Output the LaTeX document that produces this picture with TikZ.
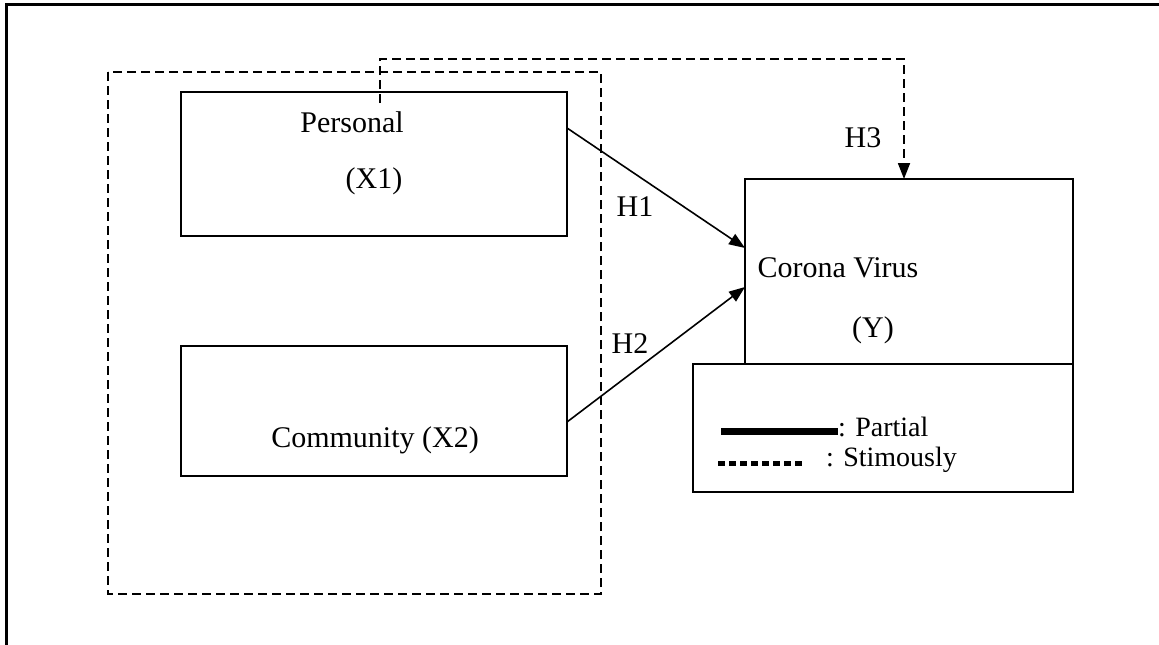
\documentclass[tikz,border=0pt]{standalone}
\usepackage{fontspec}
\setmainfont{Liberation Serif}
\usetikzlibrary{arrows.meta}
\begin{document}
\begin{tikzpicture}[x=1pt,y=-1pt,
  box/.style={draw,line width=2pt},
  dsh/.style={draw,line width=1.8pt,dash pattern=on 9pt off 5pt},
  lbl/.style={font=\fontsize{30}{34}\selectfont,anchor=base,inner sep=0pt},
  leg/.style={font=\fontsize{28}{32}\selectfont,anchor=base west,inner sep=0pt},
  arr/.style={line width=1.6pt,-{Triangle[length=16pt,width=12pt]}}]
\useasboundingbox (0,0) rectangle (1159,645);
% outer frame (top and left only)
\draw[line width=3pt] (6,645) -- (6,4) -- (1159,4);
% dashed group
\draw[dsh] (108,72) rectangle (601,594);
% boxes
\draw[box] (181,92) rectangle (567,236);
\draw[box] (181,346) rectangle (567,476);
\draw[box] (745,179) rectangle (1073,364);
\draw[box] (693,364) rectangle (1073,492);
% texts
\node[lbl] (tpers) at (352,132) {Personal};
\node[lbl] (tx1) at (374,188) {(X1)};
\node[lbl] (tcomm) at (375,447) {Community (X2)};
\node[lbl] (tcor) at (838,277) {Corona Virus};
\node[lbl] (ty) at (873,337) {(Y)};
\node[lbl] (th1) at (635,216) {H1};
\node[lbl] (th2) at (630,353) {H2};
\node[lbl] (th3) at (863,147) {H3};
% connectors
\coordinate (h1s) at (567,128);
\coordinate (h1e) at (745,248);
\coordinate (h2s) at (567,422);
\coordinate (h2e) at (745,287);
\coordinate (h3s) at (380,103);
\coordinate (h3a) at (380,59);
\coordinate (h3b) at (904,59);
\coordinate (h3e) at (904,179);
\draw[arr] (h1s) -- (h1e);
\draw[arr] (h2s) -- (h2e);
\draw[arr,line width=1.8pt,dash pattern=on 9pt off 5pt] (h3s) -- (h3a) -- (h3b) -- (h3e);
% legend
\coordinate (l1s) at (721,431.5);
\coordinate (l1e) at (838,431.5);
\coordinate (l2s) at (718,463);
\coordinate (l2e) at (802,463);
\draw[line width=7pt] (l1s) -- (l1e);
\draw[line width=5pt,dash pattern=on 7pt off 4pt] (l2s) -- (l2e);
\node[leg] (tpart) at (838,436) {: Partial};
\node[leg] (tstim) at (826,466) {: Stimously};
\end{tikzpicture}
\end{document}
